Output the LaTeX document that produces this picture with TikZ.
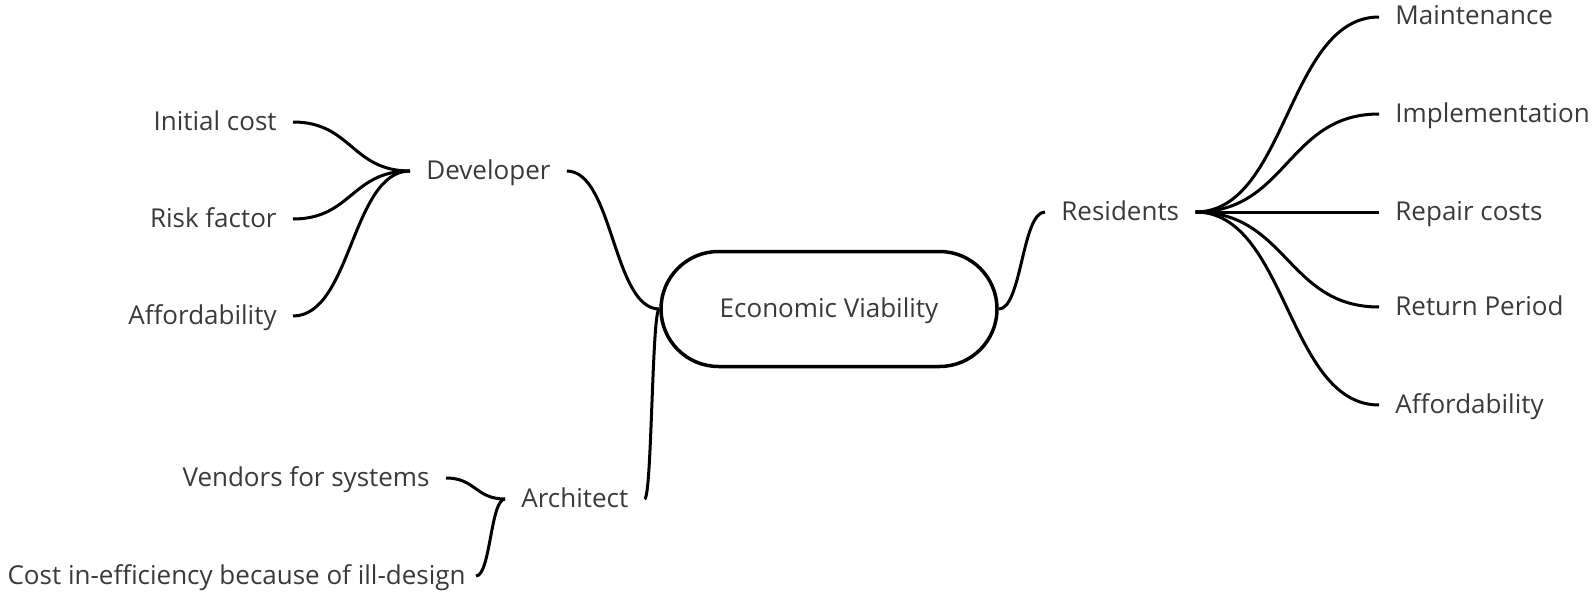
\documentclass[tikz,border=0pt]{standalone}
\usepackage{fontspec}
\setmainfont{Open Sans}
\usetikzlibrary{shapes.misc,calc}
\definecolor{mapText}{HTML}{3A3A3A}

\tikzset{
  topic/.style={text=mapText,inner xsep=8pt,inner ysep=0pt,text height=0.8em,text depth=0pt,font=\fontsize{13}{15}\selectfont},
  hub/.style={topic,draw=black,line width=1.75pt,rounded rectangle,minimum width=184pt,minimum height=57.5pt},
  branch/.style={line width=1.5pt,to path={let \p1=(\tikztostart),\p2=(\tikztotarget) in .. controls (0.5*\x1+0.5*\x2,\y1) and (0.5*\x1+0.5*\x2,\y2) .. (\tikztotarget) \tikztonodes}}
}

\begin{document}
\begin{tikzpicture}[x=0.5pt,y=-0.5pt]
\useasboundingbox (0,0) rectangle (1596,594);
\node[hub] (ev) at (829,309) {Economic Viability};
% left: developer and architect
\node[topic,anchor=west] (dev) at (410,171) {Developer};
\node[topic,anchor=east] (devCost) at (293,122) {Initial cost};
\node[topic,anchor=east] (devRisk) at (293,219) {Risk factor};
\node[topic,anchor=east] (devAfford) at (293,316) {Affordability};
\node[topic,anchor=west] (arch) at (505,499) {Architect};
\node[topic,anchor=east] (archVendors) at (446,478) {Vendors for systems};
\node[topic,anchor=east,inner xsep=5pt] (archDesign) at (476,576) {Cost in-efficiency because of ill-design};
% right: residents
\node[topic,anchor=west] (res) at (1045,212) {Residents};
\node[topic,anchor=west] (resMaint) at (1379,17) {Maintenance};
\node[topic,anchor=west] (resImpl) at (1379,114) {Implementation};
\node[topic,anchor=west] (resRepair) at (1379,212) {Repair costs};
\node[topic,anchor=west] (resReturn) at (1379,307) {Return Period};
\node[topic,anchor=west] (resAfford) at (1379,405) {Affordability};
% branches
\draw[branch] (ev.west) to (dev.east);
\draw[branch] (ev.west) to (arch.east);
\draw[branch] (ev.east) to (res.west);
\foreach \leaf in {devCost,devRisk,devAfford}
  \draw[branch] (dev.west) to (\leaf.east);
\foreach \leaf in {archVendors,archDesign}
  \draw[branch] (arch.west) to (\leaf.east);
\foreach \leaf in {resMaint,resImpl,resRepair,resReturn,resAfford}
  \draw[branch] (res.east) to (\leaf.west);
\end{tikzpicture}
\end{document}
